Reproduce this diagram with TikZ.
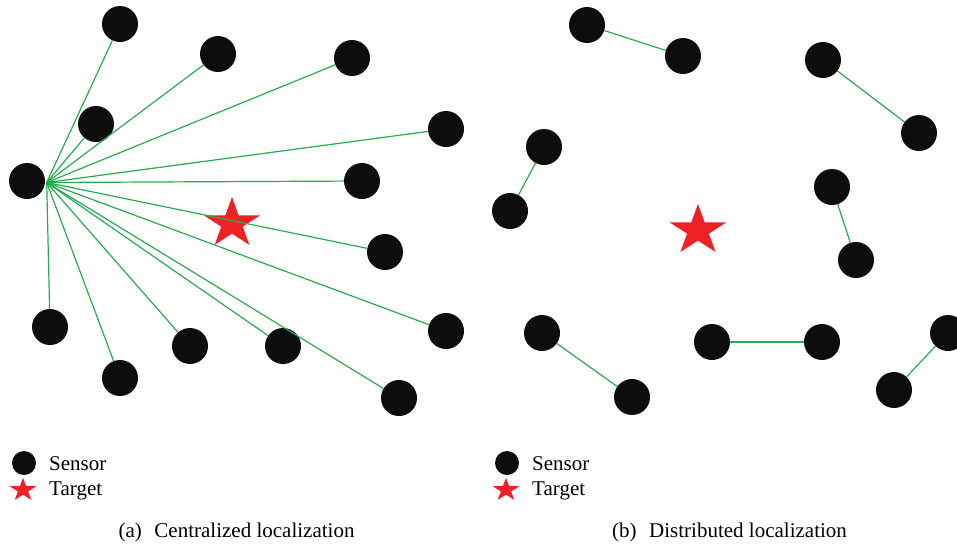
\documentclass[tikz,border=0pt]{standalone}
\usepackage{fontspec}
\setmainfont{Liberation Serif}
\definecolor{sensorblack}{HTML}{0D0D0D}
\definecolor{linkgreen}{HTML}{25AC50}
\definecolor{targetred}{HTML}{EE2124}
\tikzset{
  sensor/.style={circle, fill=sensorblack, inner sep=0pt, minimum size=36pt},
  legsensor/.style={circle, fill=sensorblack, inner sep=0pt, minimum size=24pt},
  link/.style={draw=linkgreen, line width=1.2pt},
  legtext/.style={anchor=base west, inner sep=0pt, font=\fontsize{21}{25}\selectfont},
  captext/.style={anchor=base, inner sep=0pt, font=\fontsize{21}{25}\selectfont},
  targetstar/.pic={
    \fill[targetred] (270:1) -- (306:.382) -- (342:1) -- (18:.382) -- (54:1)
      -- (90:.382) -- (126:1) -- (162:.382) -- (198:1) -- (234:.382) -- cycle;
  }
}
\begin{document}
\begin{tikzpicture}[x=1pt, y=-1pt]
\useasboundingbox (0,0) rectangle (957,544);

% ---------- (a) centralized: every sensor reports to one fusion node ----------
\node[sensor] (hub) at (27,181) {};
\node[sensor] (a1)  at (120,24) {};
\node[sensor] (a2)  at (218,54) {};
\node[sensor] (a3)  at (352,58) {};
\node[sensor] (a4)  at (96,124) {};
\node[sensor] (a5)  at (446,129) {};
\node[sensor] (a6)  at (362,181) {};
\node[sensor] (a7)  at (385,252) {};
\node[sensor] (a8)  at (50,327) {};
\node[sensor] (a9)  at (120,378) {};
\node[sensor] (a10) at (190,346) {};
\node[sensor] (a11) at (283,346) {};
\node[sensor] (a12) at (446,331) {};
\node[sensor] (a13) at (399,398) {};
\pic[xscale=1.12, scale=26.5] at (232,223.5) {targetstar};

\coordinate (hubtip) at ([xshift=1.5pt,yshift=-1.5pt]hub.east);
\foreach \n in {a1,a2,a3,a4,a5,a6,a7,a8,a9,a10,a11,a12,a13}
  \draw[link] (hubtip) -- (\n);

% ---------- (b) distributed: sensors cooperate in local pairs ----------
\node[sensor] (b1)  at (587,25) {};
\node[sensor] (b2)  at (683,56) {};
\node[sensor] (b3)  at (823,60) {};
\node[sensor] (b4)  at (919,133) {};
\node[sensor] (b5)  at (544,147) {};
\node[sensor] (b6)  at (510,211) {};
\node[sensor] (b7)  at (832,187) {};
\node[sensor] (b8)  at (856,260) {};
\node[sensor] (b9)  at (542,333) {};
\node[sensor] (b10) at (632,397) {};
\node[sensor] (b11) at (712,342) {};
\node[sensor] (b12) at (822,342) {};
\node[sensor] (b13) at (948,333) {};
\node[sensor] (b14) at (894,390) {};
\pic[xscale=1.13, scale=26.5] at (698,230.5) {targetstar};

\draw[link] (b1) -- (b2);
\draw[link] (b3) -- (b4);
\draw[link] (b5) -- (b6);
\draw[link] (b7) -- (b8);
\draw[link] (b9) -- (b10);
\draw[link] (b11) -- (b12);
\draw[link] (b13) -- (b14);

% ---------- legends ----------
\node[legsensor] (lsa) at (24,463) {};
\pic[xscale=1.15, scale=12.2] at (23,490) {targetstar};
\node[legtext] (lsatext) at (49,470) {Sensor};
\node[legtext] (ltatext) at (49,495) {Target};

\node[legsensor] (lsb) at (507,463) {};
\pic[xscale=1.15, scale=12.2] at (506,490) {targetstar};
\node[legtext] (lsbtext) at (532,470) {Sensor};
\node[legtext] (ltbtext) at (532,495) {Target};

% ---------- captions ----------
\node[captext] (capa) at (236.5,537) {(a)\hspace{0.6em}Centralized localization};
\node[captext] (capb) at (729.5,537) {(b)\hspace{0.6em}Distributed localization};
\end{tikzpicture}
\end{document}
